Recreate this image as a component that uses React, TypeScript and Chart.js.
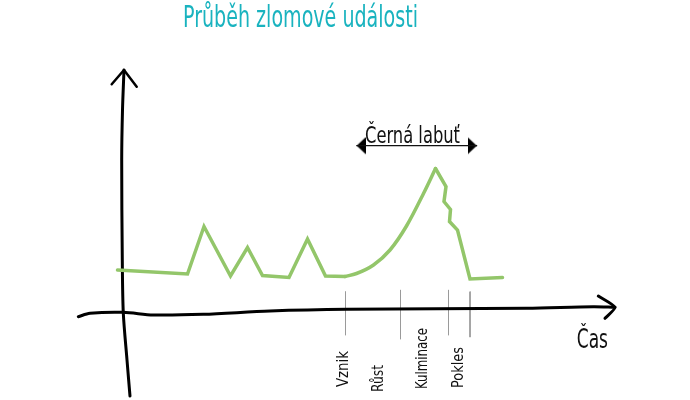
import React, { useEffect, useRef } from 'react';
import { Chart, registerables } from 'chart.js';
Chart.register(...registerables);

// ---- data (time units on x, intensity units on y) ----
const eventX = [23.5, 37.5, 40.8, 46.1, 49.5, 52.5, 57.8, 61.5, 65.1, 69.0];
const eventY = [26.0, 25.2, 34.7, 24.8, 30.5, 24.9, 24.5, 32.2, 24.8, 24.7];
const surgeX = [69.0, 71.3, 74.7, 78.0, 81.3, 84.7, 87.1];
const surgeY = [24.7, 25.3, 27.0, 30.0, 34.8, 41.3, 46.3];
const declineX = [87.1, 89.2, 88.8, 90.1, 89.9, 91.5, 94.0, 100.5];
const declineY = [46.3, 42.7, 39.7, 38.1, 35.7, 34.0, 24.2, 24.5];

const yAxisX = [26.0, 25.4, 24.66, 24.46, 24.34, 24.5, 24.8];
const yAxisY = [0.8, 8.0, 17.4, 28.0, 48.0, 58.0, 66.0];
const yHeadX = [22.34, 24.8, 27.34];
const yHeadY = [63.14, 66.0, 62.66];

const xAxisX = [15.66, 18.0, 24.66, 30.66, 40.66, 54.0, 69.34, 105.34, 118.66, 123.0];
const xAxisY = [16.66, 17.34, 17.54, 17.0, 17.14, 17.8, 18.14, 18.34, 18.66, 18.54];
const xHeadX = [119.66, 123.0, 121.0];
const xHeadY = [20.8, 18.54, 16.34];

const markerX = [69.1, 80.1, 89.7, 94.0];
const markerTop = [21.66, 22.0, 22.0, 21.66];
const markerBottom = [13.0, 12.2, 13.0, 12.6];

const phaseLabels = ['Vznik', 'Růst', 'Kulminace', 'Pokles'];

const swanLabel = 'Černá labuť';
const swanFrom = 71.34;
const swanTo = 95.34;
const swanY = 50.86;

const titleText = 'Průběh zlomové události';
const axisLabel = 'Čas';

// ---- text layout (data units: x = time, y = intensity) ----
const TITLE_BOX = { left: 36.6, right: 83.6, base: 74.6, size: 30 };
const SWAN_BOX = { left: 73.0, right: 92.0, base: 51.4, size: 23 };
const AXIS_BOX = { left: 115.34, right: 121.6, base: 10.34, size: 27 };
const PHASE_BASE_X = [69.6, 76.54, 85.46, 92.66];
const PHASE_START_Y = [2.6, 1.6, 2.2, 2.4];
const PHASE_LEN = [7.2, 5.4, 12.2, 8.2];
const PHASE_SIZE = 15;

const FONT = "'DejaVu Sans Condensed', 'DejaVu Sans', sans-serif";

const pts = (xs: number[], ys: number[]) => xs.map((x, i) => ({ x, y: ys[i] }));

function makeTriangle(): HTMLCanvasElement {
  const c = document.createElement('canvas');
  c.width = 9;
  c.height = 18;
  const g = c.getContext('2d')!;
  g.fillStyle = '#000';
  g.beginPath();
  g.moveTo(9, 9);
  g.lineTo(0, 0.5);
  g.lineTo(0, 17.5);
  g.closePath();
  g.fill();
  return c;
}

function fitText(ctx: CanvasRenderingContext2D, text: string, x: number, y: number, w: number, size: number, rot = 0) {
  ctx.save();
  ctx.font = `200 ${size}px ${FONT}`;
  const m = ctx.measureText(text).width;
  ctx.translate(x, y);
  if (rot) ctx.rotate(rot);
  ctx.scale(w / m, 1);
  ctx.textAlign = 'left';
  ctx.textBaseline = 'alphabetic';
  ctx.fillText(text, 0, 0);
  ctx.restore();
}

const textPlugin = {
  id: 'sketchText',
  afterDatasetsDraw(chart: any) {
    const { ctx, scales } = chart;
    const x = scales.x;
    const y = scales.y;
    const px = (v: number) => x.getPixelForValue(v);
    const py = (v: number) => y.getPixelForValue(v);
    ctx.save();
    ctx.fillStyle = '#19b3bf';
    fitText(ctx, titleText, px(TITLE_BOX.left), py(TITLE_BOX.base), px(TITLE_BOX.right) - px(TITLE_BOX.left), TITLE_BOX.size);
    ctx.fillStyle = '#111';
    fitText(ctx, swanLabel, px(SWAN_BOX.left), py(SWAN_BOX.base), px(SWAN_BOX.right) - px(SWAN_BOX.left), SWAN_BOX.size);
    fitText(ctx, axisLabel, px(AXIS_BOX.left), py(AXIS_BOX.base), px(AXIS_BOX.right) - px(AXIS_BOX.left), AXIS_BOX.size);
    phaseLabels.forEach((t, i) => {
      const len = py(0) - py(PHASE_LEN[i]);
      fitText(ctx, t, px(PHASE_BASE_X[i]), py(PHASE_START_Y[i]), len, PHASE_SIZE, -Math.PI / 2);
    });
    ctx.restore();
  },
};

export default function App() {
  const ref = useRef<HTMLCanvasElement | null>(null);
  useEffect(() => {
    document.body.style.margin = '0';
    const tri = makeTriangle();
    const black = '#000';
    const green = '#93c66a';
    const base = { pointRadius: 0, fill: false, borderCapStyle: 'round', borderJoinStyle: 'round' } as any;
    const datasets: any[] = [
      { ...base, data: pts(eventX, eventY), borderColor: green, borderWidth: 3.5, tension: 0, borderJoinStyle: 'miter' },
      { ...base, data: pts(surgeX, surgeY), borderColor: green, borderWidth: 3.5, cubicInterpolationMode: 'monotone' },
      { ...base, data: pts(declineX, declineY), borderColor: green, borderWidth: 3.5, tension: 0, borderJoinStyle: 'miter' },
      { ...base, data: pts(yAxisX, yAxisY), borderColor: black, borderWidth: 3, tension: 0.3 },
      { ...base, data: pts(yHeadX, yHeadY), borderColor: black, borderWidth: 2.5, tension: 0 },
      { ...base, data: pts(xAxisX, xAxisY), borderColor: black, borderWidth: 3, tension: 0.3 },
      { ...base, data: pts(xHeadX, xHeadY), borderColor: black, borderWidth: 3, tension: 0.2 },
      ...markerX.map((mx, i) => ({
        ...base,
        data: [{ x: mx, y: markerTop[i] }, { x: mx, y: markerBottom[i] }],
        borderColor: '#9a9a9a',
        borderWidth: 1,
      })),
      { ...base, data: [{ x: swanFrom, y: swanY }, { x: swanTo, y: swanY }], borderColor: '#111', borderWidth: 1.2 },
      {
        ...base,
        data: [{ x: swanFrom + 0.9, y: swanY }, { x: swanTo - 0.9, y: swanY }],
        showLine: false,
        pointRadius: 9,
        pointStyle: tri,
        pointRotation: (c: any) => (c.dataIndex === 0 ? 180 : 0),
      },
    ];
    const chart = new Chart(ref.current!, {
      type: 'line',
      data: { datasets },
      options: {
        animation: false,
        responsive: false,
        maintainAspectRatio: false,
        layout: { padding: 0, autoPadding: false },
        events: [],
        plugins: { legend: { display: false }, tooltip: { enabled: false }, title: { display: false } },
        scales: {
          x: { type: 'linear', min: 0, max: 138, display: false },
          y: { type: 'linear', min: 0, max: 80, display: false },
        },
      },
      plugins: [textPlugin],
    });
    return () => chart.destroy();
  }, []);
  return (
    <div style={{ position: 'fixed', left: 0, top: 0, width: 690, height: 400, background: '#fff' }}>
      <canvas ref={ref} width={690} height={400} />
    </div>
  );
}
